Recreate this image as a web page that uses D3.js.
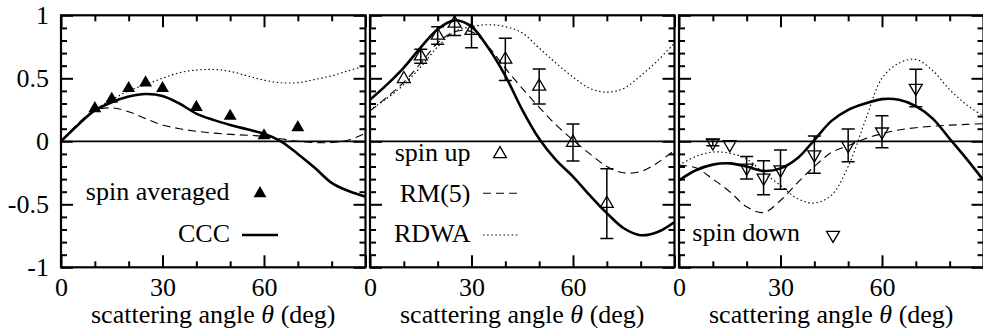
<!DOCTYPE html>
<html><head><meta charset="utf-8">
<script src="https://cdn.jsdelivr.net/npm/d3@7"></script>
<style>
body{margin:0;background:#fff;}
svg{display:block;}
svg text{font-family:"Liberation Serif","Times New Roman",Times,Tinos,"Nimbus Roman","Nimbus Roman No9 L",FreeSerif,"Noto Serif","DejaVu Serif",serif !important;}
</style></head><body><svg id="c" width="983" height="328"></svg>
<script>
// ---- data ----
const angles = [0,5,10,15,20,25,30,35,40,45,50,55,60,65,70,75,80,85,90];

const cccAvg  = [0,0.13,0.245,0.31,0.355,0.375,0.36,0.30,0.22,0.17,0.13,0.095,0.06,0.0,-0.10,-0.21,-0.33,-0.395,-0.44];
const rmAvg   = [0,0.14,0.245,0.265,0.235,0.18,0.13,0.10,0.08,0.065,0.055,0.048,0.04,0.02,0.0,-0.01,-0.01,0.01,0.065];
const rdwaAvg = [0,0.13,0.25,0.33,0.40,0.45,0.50,0.545,0.565,0.57,0.555,0.52,0.485,0.465,0.465,0.49,0.52,0.56,0.60];

const cccUp  = [0.33,0.45,0.585,0.745,0.89,0.96,0.91,0.74,0.52,0.25,0.02,-0.15,-0.28,-0.43,-0.57,-0.69,-0.745,-0.72,-0.64];
const rmUp   = [0.24,0.35,0.47,0.62,0.78,0.87,0.87,0.75,0.58,0.42,0.27,0.13,0.01,-0.10,-0.20,-0.25,-0.24,-0.17,-0.07];
const rdwaUp = [0.25,0.34,0.45,0.59,0.75,0.87,0.91,0.925,0.91,0.86,0.74,0.62,0.51,0.42,0.39,0.42,0.52,0.64,0.78];

const cccDown  = [-0.31,-0.23,-0.185,-0.175,-0.2,-0.235,-0.215,-0.135,0.01,0.16,0.25,0.30,0.335,0.33,0.28,0.18,0.02,-0.14,-0.31];
const rmDown   = [-0.19,-0.21,-0.30,-0.40,-0.52,-0.565,-0.47,-0.33,-0.20,-0.09,-0.035,0.02,0.06,0.09,0.108,0.12,0.128,0.134,0.14];
const rdwaDown = [-0.19,-0.12,-0.085,-0.095,-0.14,-0.25,-0.35,-0.455,-0.49,-0.43,-0.20,0.16,0.50,0.62,0.65,0.56,0.41,0.29,0.20];

const expAngles = [10,15,20,25,30,40,50,60,70];
const avgVals  = [0.26,0.335,0.42,0.465,0.42,0.27,0.20,0.045,0.11];
const upVals   = [0.495,0.675,0.84,0.936,0.878,0.65,0.435,-0.01,-0.495];
const upErr    = [0,0.056,0.07,0.096,0.135,0.167,0.138,0.147,0.277];
const downVals = [-0.01,-0.025,-0.21,-0.29,-0.225,-0.106,-0.032,0.076,0.423];
const downErr  = [0.025,0,0.09,0.135,0.155,0.148,0.13,0.127,0.148];

const xMajor = [0,30,60,90];
const xMinor = [10,20,40,50,70,80];
const xLabels = ["0","30","60",""];
const yMajor = [-1,-0.5,0,0.5,1];
const yLabels = ["-1","-0.5","0","0.5","1"];
const yMinor = [-0.9,-0.8,-0.7,-0.6,-0.4,-0.3,-0.2,-0.1,0.1,0.2,0.3,0.4,0.6,0.7,0.8,0.9];

// ---- layout ----
const panelLeft = [61, 370, 679], panelW = 304.5, plotTop = 15.3, plotBottom = 267.3;
const FS = 26;
const FONT = '"Liberation Serif","Times New Roman",Times,Tinos,"Nimbus Roman",FreeSerif,"Noto Serif","DejaVu Serif",serif';
const svg = d3.select('#c');
const y = d3.scaleLinear().domain([-1,1]).range([plotBottom, plotTop]);

const panels = [
  {ccc:cccAvg, rm:rmAvg, rdwa:rdwaAvg, vals:avgVals, err:null, sym:'filled'},
  {ccc:cccUp, rm:rmUp, rdwa:rdwaUp, vals:upVals, err:upErr, sym:'up'},
  {ccc:cccDown, rm:rmDown, rdwa:rdwaDown, vals:downVals, err:downErr, sym:'down'}
];

const tri = d3.symbol().type(d3.symbolTriangle).size(72);

function marker(g, type, cx, cy){
  const p = g.append('path').attr('d', tri())
    .attr('transform', `translate(${cx},${cy})` + (type==='down' ? ' rotate(180)' : ''));
  if(type==='filled') p.attr('fill','#000').attr('stroke','none');
  else p.attr('fill','none').attr('stroke','#000').attr('stroke-width',1.3);
}

function styleAxis(sel, labels){
  sel.select('.domain').remove();
  sel.selectAll('.tick line').attr('stroke','#000').attr('stroke-width',2);
  sel.attr('font-family',FONT).attr('font-size',FS);
  if(!labels) sel.selectAll('.tick text').remove();
  sel.selectAll('.tick text').attr('fill','#000').attr('font-family',FONT);
}

panels.forEach((p,i)=>{
  const x = d3.scaleLinear().domain([0,90]).range([panelLeft[i], panelLeft[i]+panelW]);
  const g = svg.append('g');
  const clipId = 'clip'+i;
  svg.append('clipPath').attr('id',clipId).append('rect')
    .attr('x',x(0)).attr('y',plotTop).attr('width',panelW).attr('height',plotBottom-plotTop);

  // zero line
  g.append('line').attr('x1',x(0)).attr('x2',x(90)).attr('y1',y(0)).attr('y2',y(0))
    .attr('stroke','#000').attr('stroke-width',1.8);

  const line = d3.line().x((d,j)=>x(angles[j])).y(d=>y(d)).curve(d3.curveCatmullRom.alpha(0.5));
  const cg = g.append('g').attr('clip-path',`url(#${clipId})`);
  cg.append('path').datum(p.rdwa).attr('d',line).attr('fill','none').attr('stroke','#000')
    .attr('stroke-width',1.1).attr('stroke-dasharray','1.5,2.6');
  cg.append('path').datum(p.rm).attr('d',line).attr('fill','none').attr('stroke','#000')
    .attr('stroke-width',1.1).attr('stroke-dasharray','8,5');
  cg.append('path').datum(p.ccc).attr('d',line).attr('fill','none').attr('stroke','#000')
    .attr('stroke-width',2.6);

  // error bars
  if(p.err){
    p.vals.forEach((v,j)=>{
      const e = p.err[j]; if(!e) return;
      const cx = x(expAngles[j]);
      cg.append('line').attr('x1',cx).attr('x2',cx).attr('y1',y(v-e)).attr('y2',y(v+e))
        .attr('stroke','#000').attr('stroke-width',1.5);
      [v-e, v+e].forEach(yy=>{
        cg.append('line').attr('x1',cx-6.5).attr('x2',cx+6.5).attr('y1',y(yy)).attr('y2',y(yy))
          .attr('stroke','#000').attr('stroke-width',1.5);
      });
    });
  }
  p.vals.forEach((v,j)=> marker(g, p.sym, x(expAngles[j]), y(v)));

  // axes
  const bMaj = g.append('g').attr('transform',`translate(0,${plotBottom})`)
    .call(d3.axisBottom(x).tickValues(xMajor).tickSizeInner(-12).tickSizeOuter(0).tickPadding(10)
      .tickFormat((d,k)=>xLabels[k]));
  styleAxis(bMaj, true);
  const bMin = g.append('g').attr('transform',`translate(0,${plotBottom})`)
    .call(d3.axisBottom(x).tickValues(xMinor).tickSizeInner(-6).tickSizeOuter(0));
  styleAxis(bMin, false);
  const tMaj = g.append('g').attr('transform',`translate(0,${plotTop})`)
    .call(d3.axisTop(x).tickValues(xMajor).tickSizeInner(-12).tickSizeOuter(0));
  styleAxis(tMaj, false);
  const tMin = g.append('g').attr('transform',`translate(0,${plotTop})`)
    .call(d3.axisTop(x).tickValues(xMinor).tickSizeInner(-6).tickSizeOuter(0));
  styleAxis(tMin, false);

  const lMaj = g.append('g').attr('transform',`translate(${x(0)},0)`)
    .call(d3.axisLeft(y).tickValues(yMajor).tickSizeInner(-12).tickSizeOuter(0).tickPadding(12)
      .tickFormat((d,k)=>yLabels[k]));
  styleAxis(lMaj, i===0);
  const lMin = g.append('g').attr('transform',`translate(${x(0)},0)`)
    .call(d3.axisLeft(y).tickValues(yMinor).tickSizeInner(-6).tickSizeOuter(0));
  styleAxis(lMin, false);
  const rMaj = g.append('g').attr('transform',`translate(${x(90)},0)`)
    .call(d3.axisRight(y).tickValues(yMajor).tickSizeInner(-12).tickSizeOuter(0));
  styleAxis(rMaj, false);
  const rMin = g.append('g').attr('transform',`translate(${x(90)},0)`)
    .call(d3.axisRight(y).tickValues(yMinor).tickSizeInner(-6).tickSizeOuter(0));
  styleAxis(rMin, false);

  // frame
  g.append('rect').attr('x',x(0)).attr('y',plotTop).attr('width',panelW).attr('height',plotBottom-plotTop)
    .attr('fill','none').attr('stroke','#000').attr('stroke-width',2.2);

  // axis title
  const t = g.append('text').attr('x',(x(0)+x(90))/2).attr('y',323).attr('text-anchor','middle')
    .attr('font-family',FONT).attr('font-size',FS).attr('fill','#000');
  t.append('tspan').text('scattering angle ');
  t.append('tspan').attr('font-style','italic').text('θ');
  t.append('tspan').text(' (deg)');
});

// ---- legends ----
function txt(x0, y0, s, anchor){
  svg.append('text').attr('x',x0).attr('y',y0).attr('text-anchor',anchor||'end')
    .attr('font-family',FONT).attr('font-size',FS).attr('fill','#000').text(s);
}
function sample(x1, x2, yy, dash, w){
  const l = svg.append('line').attr('x1',x1).attr('x2',x2).attr('y1',yy).attr('y2',yy)
    .attr('stroke','#000').attr('stroke-width',w);
  if(dash) l.attr('stroke-dasharray',dash);
}
txt(229.5, 200, 'spin averaged');
marker(svg, 'filled', 260, 193.5);
txt(230, 241.5, 'CCC');
sample(242, 278, 235, null, 2.6);

txt(470.5, 160.5, 'spin up');
marker(svg, 'up', 500, 154);
txt(470.5, 201.5, 'RM(5)');
sample(483, 519, 193.3, '8,5', 1.1);
txt(470.5, 241.5, 'RDWA');
sample(483, 519, 235, '1.5,2.6', 1.1);

txt(692.3, 241, 'spin down', 'start');
marker(svg, 'down', 833, 235);
</script></body></html>
